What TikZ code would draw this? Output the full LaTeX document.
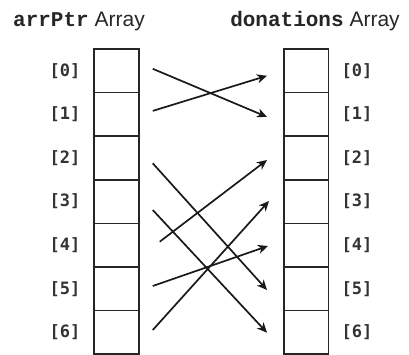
\documentclass[tikz,border=0pt]{standalone}
\usepackage{fontspec}
\setmainfont{Liberation Sans}
\newfontfamily\headmono{Liberation Mono}
\newfontfamily\idxmono{DejaVu Sans Mono}
\usetikzlibrary{arrows.meta,calc}
\begin{document}
\begin{tikzpicture}[x=1pt,y=-1pt,
  cell/.style={draw=black!85,line width=1.7pt,minimum width=44.5pt,minimum height=43.6pt,inner sep=0pt,outer sep=0pt},
  idx/.style={font=\idxmono\bfseries\fontsize{17}{17}\selectfont,text=black!80,inner sep=0pt},
  head/.style={font=\fontsize{21}{21}\selectfont,text=black!85,inner sep=0pt,anchor=base},
  ptr/.style={draw=black!90,line width=1.7pt,-{Stealth[length=10pt,width=9pt,inset=3pt]}}]
\useasboundingbox (0,0) rectangle (409,355);
\node[head] (hl) at (79,27) {{\headmono\bfseries arrPtr} Array};
\node[head] (hr) at (315,27) {{\headmono\bfseries donations} Array};
\foreach \i in {0,...,6}{
  \node[cell] (L\i) at (116.5,{49+43.6*(\i+0.5)}) {};
  \node[cell] (R\i) at (306.25,{49+43.6*(\i+0.5)}) {};
  \node[idx] (li\i) at (65,{49+43.6*(\i+0.5)}) {[\i]};
  \node[idx] (ri\i) at (357,{49+43.6*(\i+0.5)}) {[\i]};
}
\draw[ptr] ($(L0.east)+(14,-2)$) -- ($(R1.west)+(-17,2.5)$);
\draw[ptr] ($(L1.east)+(14,-3.5)$) -- ($(R0.west)+(-17,5)$);
\draw[ptr] ($(L2.east)+(14,5.3)$) -- ($(R5.west)+(-17,1.2)$);
\draw[ptr] ($(L3.east)+(14,8.4)$) -- ($(R6.west)+(-17,0.3)$);
\draw[ptr] ($(L4.east)+(21,-3.5)$) -- ($(R2.west)+(-17,2)$);
\draw[ptr] ($(L5.east)+(14,-2.8)$) -- ($(R4.west)+(-16,0.8)$);
\draw[ptr] ($(L6.east)+(14,-2.4)$) -- ($(R3.west)+(-15,-0.6)$);
\end{tikzpicture}
\end{document}
